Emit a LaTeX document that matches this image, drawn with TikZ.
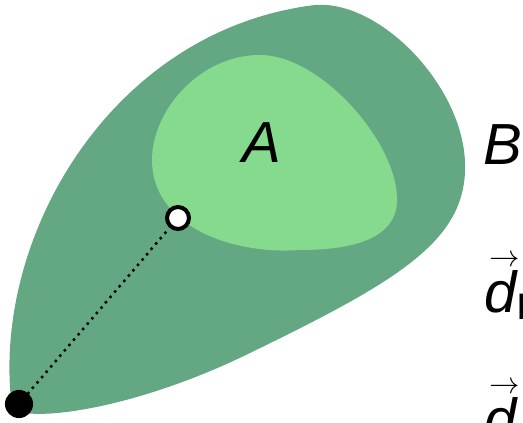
\documentclass[tikz,border=0pt]{standalone}
\usepackage{fontspec}
\setmainfont{Liberation Sans}
\usepackage{xcolor}
\usetikzlibrary{positioning}

\definecolor{setB}{RGB}{99,168,130}
\definecolor{setA}{RGB}{133,218,142}

\newcommand{\vecdir}[1]{\makebox[0pt][l]{\hspace{3pt}\raisebox{26pt}{\fontsize{17}{17}\selectfont$\rightarrow$}}\textit{d}#1}

\tikzset{
  setlabel/.style={inner sep=0pt, font=\fontsize{33}{40}\selectfont\itshape},
  opendot/.style={circle, draw, fill=white, line width=2.3pt, minimum size=12.5pt, inner sep=0pt},
  fulldot/.style={circle, fill=black, minimum size=16pt, inner sep=0pt},
  dots/.style={line width=2pt, line cap=round, dash pattern=on 0pt off 4pt}
}

\begin{document}
\begin{tikzpicture}[x=0.02cm, y=-0.02cm]
        \clip (0,0) rectangle (523,422);
        \useasboundingbox (0,0) rectangle (523,422);

        % Outer set B
        \fill[setB] (12,408) .. controls (-10,240) and (110,30) .. (315,5)
            .. controls (380,0) and (462,85) .. (465,162)
            .. controls (468,240) and (400,280) .. (250,353)
            .. controls (150,402) and (60,418) .. (25,413)
            .. controls (15,413) and (12,410) .. cycle;

        % Inner set A
        \fill[setA] (260,55) .. controls (320,55) and (395,140) .. (397,197)
            .. controls (399,240) and (350,250) .. (300,250)
            .. controls (230,255) and (152,225) .. (152,160)
            .. controls (152,110) and (200,55) .. cycle;

        % Labels
        \node[setlabel, anchor=base] (labelA) at (262,162) {A};
        \node[setlabel, anchor=base west] (labelB) at (483,164) {B};
        \node[setlabel, anchor=base west] (dirH) at (484,312)
            {\vecdir{\raisebox{-4.5pt}{\fontsize{21}{24}\selectfont\upshape H}}};
        \node[setlabel, anchor=base west] (dirL) at (484,439) {\vecdir{}};

        % Points and segment
        \node[fulldot] (base) at (19,404) {};
        \node[opendot] (tip) at (178,218) {};
        \draw[dots] (base) -- (tip);
    \end{tikzpicture}
\end{document}
